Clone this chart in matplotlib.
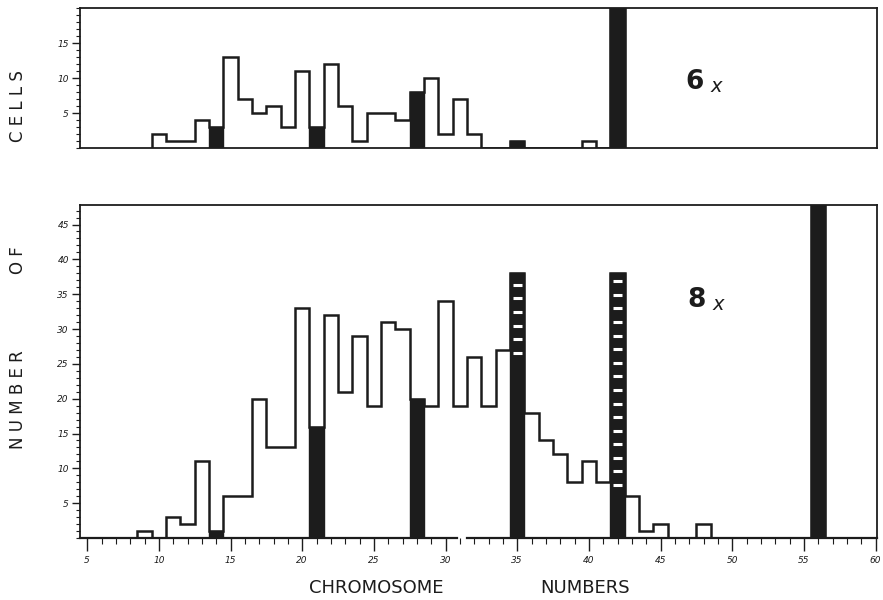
import numpy as np
import matplotlib.pyplot as plt
from matplotlib.ticker import MultipleLocator

# 6x panel: counts per chromosome number (42 is off scale)
chrom_6x = np.arange(10, 43)
cells_6x = [2, 1, 1, 4, 3, 13, 7, 5, 6, 3, 11, 3, 12, 6, 1, 5, 5, 4, 8, 10,
            2, 7, 2, 0, 0, 1, 0, 0, 0, 0, 1, 0, 25]
black_6x = [14, 21, 28, 35, 42]

# 8x panel (56 is off scale)
chrom_8x = np.arange(9, 57)
cells_8x = [1, 0, 3, 2, 11, 1, 6, 6, 20, 13, 13, 33, 16, 32, 21, 29, 19, 31, 30, 20,
            19, 34, 19, 26, 19, 27, 38, 18, 14, 12, 8, 11, 8, 38, 6, 1, 2, 0, 0, 2,
            0, 0, 0, 0, 0, 0, 0, 60]
black_8x = [14, 21, 28, 35, 42, 56]
dash_chrom = [35, 42]
dash_from = [26, 7]

x_ticks = [5, 10, 15, 20, 25, 30, 35, 40, 45, 50, 55, 60]

ink = '#1c1c1c'
plt.rcParams['font.family'] = 'DejaVu Sans'

fig = plt.figure(figsize=(8.83, 6.0), dpi=100)
ax1 = fig.add_axes([0.0906, 0.7533, 0.9026, 0.2333])
ax2 = fig.add_axes([0.0906, 0.1033, 0.9026, 0.555])


def draw_panel(ax, chrom, cells, black, top):
    chrom = np.asarray(chrom)
    cells = np.asarray(cells, dtype=float)
    edges = np.append(chrom - 0.5, chrom[-1] + 0.5)
    ax.stairs(cells, edges, baseline=0, color=ink, lw=1.8)
    idx = [list(chrom).index(c) for c in black]
    ax.bar(black, cells[idx], width=1.0, color=ink, edgecolor=ink, lw=1.0)
    ax.set_xlim(4.5, 60.1)
    ax.set_ylim(0, top)
    for s in ax.spines.values():
        s.set_linewidth(1.3)
        s.set_color(ink)
    ax.yaxis.set_major_locator(MultipleLocator(5))
    ax.yaxis.set_minor_locator(MultipleLocator(1))
    ax.tick_params(axis='y', which='major', direction='out', length=6, width=1.0,
                   labelsize=6.5, pad=2, colors=ink)
    ax.tick_params(axis='y', which='minor', direction='out', length=3, width=0.8, colors=ink)
    for lab in ax.get_yticklabels():
        lab.set_fontstyle('italic')
    ax.set_yticks([t for t in range(5, int(top) + 1, 5) if t < top])
    ax.set_yticklabels([str(t) for t in range(5, int(top) + 1, 5) if t < top],
                       fontstyle='italic', fontsize=6.5)


draw_panel(ax1, chrom_6x, cells_6x, black_6x, 20)
ax1.set_xticks([])

draw_panel(ax2, chrom_8x, cells_8x, black_8x, 47.8)
cells_8x_arr = np.asarray(cells_8x)
for c, lo in zip(dash_chrom, dash_from):
    hi = cells_8x_arr[list(chrom_8x).index(c)]
    ys = np.arange(lo + 0.6, hi - 1.0, 1.95)
    ax2.hlines(ys, c - 0.3, c + 0.3, color='white', lw=2.2)

ax2.set_xticks(x_ticks)
ax2.set_xticklabels([str(t) for t in x_ticks], fontstyle='italic', fontsize=6.5)
ax2.xaxis.set_minor_locator(MultipleLocator(1))
ax2.tick_params(axis='x', which='major', direction='out', length=9, width=1.0,
                pad=4, colors=ink)
ax2.tick_params(axis='x', which='minor', direction='out', length=4, width=0.8, colors=ink)

# broken baseline between 30 and 35
ax2.spines['bottom'].set_visible(False)
ax2.plot([4.5, 30.8], [0, 0], color=ink, lw=1.6, clip_on=False)
ax2.plot([31.5, 60.1], [0, 0], color=ink, lw=1.6, clip_on=False)

# panel labels
fig.text(695 / 883, 1 - 82 / 600, '6', fontsize=19, fontweight='bold', ha='center', va='center', color=ink)
fig.text(716 / 883, 1 - 86 / 600, 'x', fontsize=14, fontstyle='italic', ha='center', va='center', color=ink)
fig.text(697 / 883, 1 - 300 / 600, '8', fontsize=19, fontweight='bold', ha='center', va='center', color=ink)
fig.text(718 / 883, 1 - 305 / 600, 'x', fontsize=14, fontstyle='italic', ha='center', va='center', color=ink)

# split axis titles
ylab = dict(rotation=90, ha='center', va='center', fontsize=12, color=ink)
fig.text(18 / 883, 1 - 106 / 600, 'C E L L S', **ylab)
fig.text(18 / 883, 1 - 260 / 600, 'O F', **ylab)
fig.text(18 / 883, 1 - 400 / 600, 'N U M B E R', **ylab)
fig.text(376 / 883, 1 - 588 / 600, 'CHROMOSOME', fontsize=13, ha='center', va='center', color=ink)
fig.text(585 / 883, 1 - 588 / 600, 'NUMBERS', fontsize=13, ha='center', va='center', color=ink)

fig.savefig('out.png', dpi=100)
